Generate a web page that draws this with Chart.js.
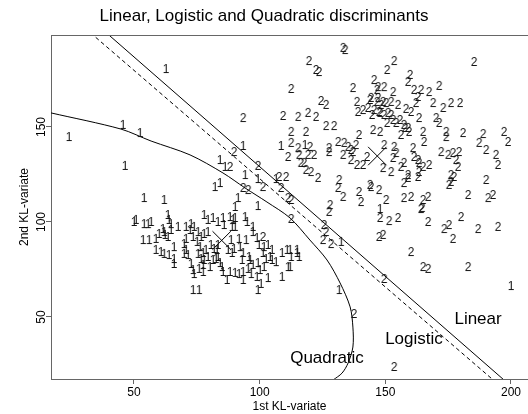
<!DOCTYPE html>
<html>
<head>
<meta charset="utf-8">
<script src="https://cdn.jsdelivr.net/npm/chart.js@4.4.1/dist/chart.umd.min.js"></script>
<style>
  html, body { margin: 0; padding: 0; background: #fff; overflow: hidden; }
  #wrap { width: 528px; height: 414px; }
  #wrap canvas { display: block; }
</style>
</head>
<body>
<div id="wrap"><canvas id="chart"></canvas></div>
<script>
const chartTitle = 'Linear, Logistic and Quadratic discriminants';
const xTitle = '1st KL-variate';
const yTitle = '2nd KL-variate';
const xTicks = [50, 100, 150, 200];
const yTicks = [50, 100, 150];
const xRange = [16.98, 206.77];
const yRange = [17.37, 198.4];

// class "1" observations
const group1 = [
  [62.7,180.5],[45.6,151.1],[52.4,146.8],[24.1,144.7],[46.4,129.5],[54.0,112.6],[62.0,111.6],
  [93.4,140.0],[84.2,132.6],[86.2,129.0],[94.2,124.7],[99.3,122.6],[82.2,118.4],[84.2,120.5],[91.4,112.6],
  [90.2,107.9],[99.3,108.4],[106.5,122.6],[108.5,140.0],[118.0,140.5],[132.4,89.5],[131.6,64.2],[200.0,66.3],
  [147.9,106.8],[111.3,76.3],
  [50.0,100.0],[50.8,101.1],[54.0,98.9],[55.6,98.9],[56.8,100.0],[63.5,103.7],[63.9,101.1],[61.5,96.3],
  [62.0,94.7],[62.3,93.2],[64.7,98.9],[64.7,95.8],[63.5,92.1],[67.5,97.4],[70.7,97.4],[72.7,98.9],[73.9,97.4],
  [77.9,103.7],[79.4,101.1],[75.5,94.7],[76.7,92.1],[77.9,93.7],[79.4,94.7],[53.6,90.5],[56.0,90.5],[58.7,91.1],
  [60.0,93.7],[70.7,91.1],[58.7,85.3],[60.7,84.2],[62.0,83.2],[63.9,82.6],[65.9,80.5],[65.9,77.9],[69.9,83.2],
  [70.7,85.3],[71.5,82.6],[65.9,86.8],[72.7,77.9],[73.5,74.7],[73.9,72.6],[75.5,83.2],[76.7,80.5],[77.5,77.4],
  [77.9,80.0],[78.6,85.3],[79.4,81.6],[75.9,75.3],[77.5,73.7],[73.5,64.2],[75.9,64.2],[69.9,88.4],
  [81.4,102.1],[83.4,100.0],[85.4,102.1],[88.2,102.6],[90.2,102.1],[89.0,97.4],[90.2,97.4],[94.2,102.6],
  [95.0,100.0],[97.3,97.4],[98.9,91.6],[103.3,87.9],[104.9,85.3],[108.9,83.7],[110.9,85.3],[114.9,85.3],
  [112.1,76.3],[108.9,71.1],[101.3,83.7],[104.1,81.6],[104.9,80.0],[96.2,80.0],[97.3,77.4],[99.3,78.4],
  [100.1,74.7],[98.9,71.1],[103.3,70.5],[99.3,64.2],[92.2,86.8],[93.4,83.7],[93.0,80.0],[93.4,73.7],[93.4,69.5],
  [89.0,83.7],[90.2,73.2],[88.2,73.7],[85.4,73.7],[87.0,69.5],[83.0,85.3],[83.4,81.6],[84.2,78.4],[85.0,76.3],
  [81.4,80.0],[80.2,76.3],[72.3,95.8],[73.5,92.1],[75.1,89.5],[76.3,86.8],[77.5,83.7],[112.1,85.3],[114.9,83.7],
  [85.8,98.4],[89.4,101.1],[97.3,94.7],[99.7,87.9],[101.7,86.8],[94.6,90.5],[91.8,91.1],[88.6,90.5],[80.6,87.9],
  [81.8,85.8],[83.4,87.9],[87.4,85.3],[89.8,85.8],[95.8,81.6],[95.4,75.3],[102.5,80.5],[106.5,78.9],[112.5,81.6],
  [115.7,81.6],[101.7,76.3],[100.5,67.4],[96.6,72.6],[82.6,80.5],[91.8,72.6]
];

// class "2" observations
const group2 = [
  [133.2,191.6],[134.0,190.5],[119.6,184.7],[122.4,180.0],[123.6,178.9],[112.5,170.0],[137.1,170.5],[124.4,163.7],
  [126.4,161.6],[93.4,154.7],[109.3,155.8],[115.3,155.3],[119.2,157.4],[122.4,155.3],[126.4,150.5],[129.6,150.5],
  [112.5,147.4],[118.4,147.4],[112.5,141.6],[115.3,138.9],[120.0,139.5],[111.3,134.2],[115.7,135.3],[119.2,135.3],
  [121.6,135.3],[116.4,131.1],[117.6,131.1],[118.4,127.4],[120.4,126.3],[123.2,123.2],[127.6,138.9],[127.6,136.8],
  [131.2,142.1],[133.6,141.6],[135.2,139.5],[136.3,137.9],[138.3,140.5],[133.2,135.3],[136.3,132.6],[137.1,136.8],
  [131.6,122.1],[131.2,117.9],[133.2,113.2],[140.3,110.5],[139.5,115.8],[139.5,145.8],[89.8,136.8],[101.3,118.4],
  [107.7,123.7],[110.5,123.7],[108.5,117.9],[111.3,112.6],[112.5,111.6],[88.2,129.0],[99.3,129.5],[95.4,116.8],
  [93.4,117.9],[101.3,92.1],[112.5,101.6],[125.6,98.4],[126.4,94.7],[125.2,90.5],[128.4,88.4],[127.6,105.3],
  [137.5,51.6],[128.0,108.9],
  [153.5,184.7],[150.7,180.0],[185.3,184.2],[159.8,177.4],[159.0,173.7],[145.5,174.7],[147.1,171.0],[149.5,171.0],
  [153.1,168.4],[161.4,169.5],[164.2,169.5],[167.4,168.4],[171.4,171.6],[144.3,165.3],[147.1,165.3],[148.3,161.6],
  [150.3,162.6],[152.3,163.2],[155.0,161.6],[158.2,159.5],[160.2,157.9],[163.4,154.7],[162.2,162.6],[163.0,165.8],
  [169.0,162.6],[173.0,160.0],[176.1,162.6],[179.7,162.6],[145.5,158.9],[147.5,157.9],[149.5,156.3],[153.1,153.7],
  [154.3,152.1],[152.3,156.3],[170.2,154.7],[171.4,152.1],[157.4,151.1],[159.0,149.5],[159.4,147.4],[156.2,145.8],
  [165.0,147.4],[165.4,142.1],[174.2,147.4],[174.2,144.7],[180.9,146.8],[188.9,146.3],[187.3,141.6],[190.1,137.9],
  [194.0,135.3],[194.8,130.0],[197.2,147.4],[198.8,142.1],[149.5,140.5],[153.5,139.5],[154.3,136.3],[153.1,133.7],
  [161.0,138.9],[161.4,134.2],[163.0,132.6],[163.4,131.1],[165.0,129.0],[167.4,130.0],[172.2,136.8],[175.0,135.3],
  [176.9,136.3],[179.3,136.8],[178.1,132.6],[178.9,129.0],[149.1,128.4],[152.3,126.3],[156.2,129.0],[157.4,131.1],
  [159.0,124.7],[159.0,123.2],[157.4,120.5],[163.0,123.7],[163.4,126.3],[176.1,124.7],[177.3,123.7],[176.1,121.1],
  [175.3,119.5],[190.1,122.1],[144.3,118.4],[147.5,116.8],[150.3,111.6],[157.4,112.6],[160.2,113.2],[165.0,111.6],
  [167.0,113.2],[182.9,114.2],[190.9,112.6],[192.8,114.2],
  [147.9,102.1],[151.5,100.5],[155.0,102.1],[164.2,106.8],[167.0,100.0],[173.4,96.3],[175.3,98.4],[176.9,91.1],
  [180.1,102.6],[186.9,96.3],[194.8,97.4],[147.5,92.1],[149.1,93.2],[160.2,84.2],[165.0,76.3],[167.0,75.3],
  [182.9,76.3],[149.5,70.0],[153.5,23.7],[143.9,119.5],[142.7,134.2],[141.1,130.0],[138.7,130.0],[164.6,107.4],
  [138.7,163.2],[141.1,158.9],[139.1,157.9],[143.1,160.0],[143.9,164.2],[146.7,163.2],[149.1,163.2],[144.7,156.3],
  [147.9,157.4],[151.1,157.4],[146.7,169.5],[145.1,148.4],[147.9,147.4],[150.7,152.1],[155.8,153.7],[157.8,149.5]
];

const groupMeans = [[84.9, 90.3], [146.8, 134.7]];
const linearEnds = [[20, 221.5], [210, 2.1]];
const logisticEnds = [[20, 214.0], [210, -2.6]];
const quadCurve = [
  [17.0,157.4],[44.8,148.9],[56.8,142.6],[72.3,135.3],[85.4,125.8],[94.2,117.9],[102.9,110.5],[112.1,102.1],
  [120.0,90.5],[126.8,80.0],[132.0,67.9],[136.0,55.3],[137.1,44.7],[137.1,34.2],[135.2,25.8],[132.8,20.5],[129.2,16.8]
];
const curveNames = ['Linear', 'Logistic', 'Quadratic'];
const curveNameX = [186.9, 161.4, 126.8];
const curveNameY = [49.0, 38.5, 28.0];

const family = '"Liberation Sans", Arial, Helvetica, sans-serif';
const frameColor = '#666';

function glyph(ch) {
    const c = document.createElement('canvas');
    c.width = 10;
    c.height = 14;
    const g = c.getContext('2d');
    g.fillStyle = '#111';
    g.font = '12px ' + family;
    g.textAlign = 'center';
    g.textBaseline = 'alphabetic';
    g.fillText(ch, 5, 11.3);
    return c;
}

const toXY = pts => pts.map(p => ({ x: p[0], y: p[1] }));

const extras = {
    id: 'extras',
    afterDraw(chart) {
        const { ctx, chartArea, scales } = chart;
        ctx.save();
        // top edge of the box
        ctx.strokeStyle = frameColor;
        ctx.lineWidth = 1;
        ctx.beginPath();
        ctx.moveTo(chartArea.left, Math.round(chartArea.top) + 0.5);
        ctx.lineTo(chartArea.right, Math.round(chartArea.top) + 0.5);
        ctx.stroke();

        // y tick labels, rotated like R does
        ctx.fillStyle = '#000';
        ctx.font = '12px ' + family;
        ctx.textAlign = 'center';
        ctx.textBaseline = 'middle';
        yTicks.forEach(v => {
            ctx.save();
            ctx.translate(42, scales.y.getPixelForValue(v));
            ctx.rotate(-Math.PI / 2);
            ctx.fillText(String(v), 0, 0);
            ctx.restore();
        });

        // boundary names
        ctx.font = '17px ' + family;
        curveNames.forEach((name, i) => {
            ctx.fillText(name, scales.x.getPixelForValue(curveNameX[i]), scales.y.getPixelForValue(curveNameY[i]));
        });
        ctx.restore();
    }
};

new Chart(document.getElementById('chart'), {
    type: 'scatter',
    data: {
        datasets: [
            {
                data: toXY(group1),
                pointStyle: glyph('1'),
                pointRadius: 5
            },
            {
                data: toXY(group2),
                pointStyle: glyph('2'),
                pointRadius: 5
            },
            {
                data: toXY(groupMeans),
                pointStyle: 'crossRot',
                pointRadius: 13,
                borderColor: '#000',
                borderWidth: 1
            },
            {
                data: toXY(linearEnds),
                showLine: true,
                pointRadius: 0,
                borderColor: '#000',
                borderWidth: 1
            },
            {
                data: toXY(logisticEnds),
                showLine: true,
                pointRadius: 0,
                borderColor: '#000',
                borderWidth: 1,
                borderDash: [4, 3]
            },
            {
                data: toXY(quadCurve),
                showLine: true,
                pointRadius: 0,
                borderColor: '#000',
                borderWidth: 1,
                tension: 0.3
            }
        ]
    },
    options: {
        responsive: true,
        maintainAspectRatio: false,
        animation: false,
        events: [],
        layout: { padding: 0, autoPadding: false },
        plugins: {
            legend: { display: false },
            tooltip: { enabled: false },
            title: {
                display: true,
                text: chartTitle,
                color: '#000',
                font: { family, size: 17, weight: 'normal' },
                padding: { top: 5.8, bottom: 8.8 }
            }
        },
        scales: {
            x: {
                type: 'linear',
                min: xRange[0],
                max: xRange[1],
                afterBuildTicks: s => { s.ticks = xTicks.map(v => ({ value: v })); },
                afterFit: s => { s.height = 35; s.paddingLeft = 0; s.paddingRight = 0; },
                grid: { drawOnChartArea: false, drawTicks: true, tickLength: 5, color: frameColor },
                border: { display: true, color: frameColor, width: 1 },
                ticks: { color: '#000', font: { family, size: 12 }, padding: 1, maxRotation: 0, autoSkip: false },
                title: { display: true, text: xTitle, color: '#000', font: { family, size: 12 }, padding: { top: 0, bottom: 0 } }
            },
            y: {
                type: 'linear',
                min: yRange[0],
                max: yRange[1],
                afterBuildTicks: s => { s.ticks = yTicks.map(v => ({ value: v })); },
                afterFit: s => { s.width = 51; s.paddingTop = 0; s.paddingBottom = 0; },
                grid: { drawOnChartArea: false, drawTicks: true, tickLength: 5, color: frameColor },
                border: { display: true, color: frameColor, width: 1 },
                ticks: { display: false },
                title: { display: true, text: yTitle, color: '#000', font: { family, size: 12 }, padding: { top: 17.8, bottom: 0 } }
            }
        }
    },
    plugins: [extras]
});
</script>
</body>
</html>
